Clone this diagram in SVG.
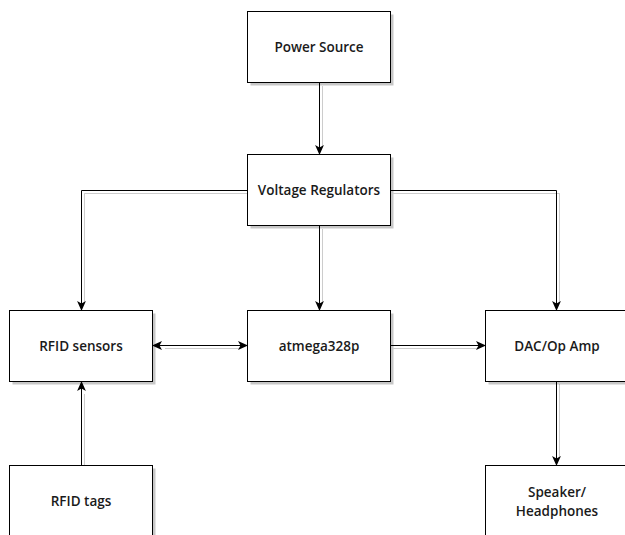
<svg xmlns="http://www.w3.org/2000/svg" width="625" height="535" viewBox="0 0 625 535">
<defs>
<marker id="arr" viewBox="0 0 10 10" refX="9.5" refY="5" markerWidth="10" markerHeight="10" markerUnits="userSpaceOnUse" orient="auto-start-reverse">
<path d="M0,0.6 L10,5 L0,9.4 L2.5,5 Z" fill="#000"/>
</marker>
</defs>
<style>
.box{fill:#fff;stroke:#000;stroke-width:1}
.sh{fill:#000;opacity:0.22}
.lbl{font-family:"Open Sans","Liberation Sans",sans-serif;font-weight:600;font-size:13.5px;fill:#1a1a1a;text-anchor:middle;dominant-baseline:central}
.edge{fill:none;stroke:#000;stroke-width:1}
.eshadow{fill:none;stroke:#000;stroke-width:1;opacity:0.2}
</style>
<rect width="625" height="535" fill="#fff"/>
<g id="connectors">
<g transform="translate(3,3)">
<path class="eshadow" d="M319.5,83 V145"/>
<path class="eshadow" d="M247.5,190.5 H81.5 V300"/>
<path class="eshadow" d="M319.5,226 V300"/>
<path class="eshadow" d="M390.5,190.5 H556.5 V300"/>
<path class="eshadow" d="M162,345.5 H237"/>
<path class="eshadow" d="M390.5,345.5 H475"/>
<path class="eshadow" d="M556.5,381 V455"/>
<path class="eshadow" d="M81.5,465 V391"/>
</g>
<path class="edge" marker-end="url(#arr)" d="M319.5,83 V154.5"/>
<path class="edge" marker-end="url(#arr)" d="M247.5,190.5 H81.5 V310.5"/>
<path class="edge" marker-end="url(#arr)" d="M319.5,226 V310.5"/>
<path class="edge" marker-end="url(#arr)" d="M390.5,190.5 H556.5 V310.5"/>
<path class="edge" marker-start="url(#arr)" marker-end="url(#arr)" d="M152.5,345.5 H247.5"/>
<path class="edge" marker-end="url(#arr)" d="M390.5,345.5 H485.5"/>
<path class="edge" marker-end="url(#arr)" d="M556.5,381.5 V465.5"/>
<path class="edge" marker-end="url(#arr)" d="M81.5,465.5 V381.5"/>
</g>
<g id="power-source">
<rect class="sh" x="250.5" y="14.5" width="143" height="71"/>
<rect class="box" x="247.5" y="11.5" width="143" height="71"/>
<text class="lbl" x="319" y="47">Power Source</text>
</g>
<g id="voltage-regulators">
<rect class="sh" x="250.5" y="157.5" width="143" height="71"/>
<rect class="box" x="247.5" y="154.5" width="143" height="71"/>
<text class="lbl" x="319" y="190">Voltage Regulators</text>
</g>
<g id="rfid-sensors">
<rect class="sh" x="12.5" y="313.5" width="143" height="71"/>
<rect class="box" x="9.5" y="310.5" width="143" height="71"/>
<text class="lbl" x="81" y="346">RFID sensors</text>
</g>
<g id="atmega328p">
<rect class="sh" x="250.5" y="313.5" width="143" height="71"/>
<rect class="box" x="247.5" y="310.5" width="143" height="71"/>
<text class="lbl" x="319" y="346">atmega328p</text>
</g>
<g id="dac-op-amp">
<rect class="sh" x="488.5" y="313.5" width="143" height="71"/>
<rect class="box" x="485.5" y="310.5" width="143" height="71"/>
<text class="lbl" x="557" y="346">DAC/Op Amp</text>
</g>
<g id="rfid-tags">
<rect class="sh" x="12.5" y="468.5" width="143" height="71"/>
<rect class="box" x="9.5" y="465.5" width="143" height="71"/>
<text class="lbl" x="81" y="501">RFID tags</text>
</g>
<g id="speaker-headphones">
<rect class="sh" x="488.5" y="468.5" width="143" height="71"/>
<rect class="box" x="485.5" y="465.5" width="143" height="71"/>
<text class="lbl" x="557" y="492">Speaker/</text>
<text class="lbl" x="557" y="511">Headphones</text>
</g>
</svg>
